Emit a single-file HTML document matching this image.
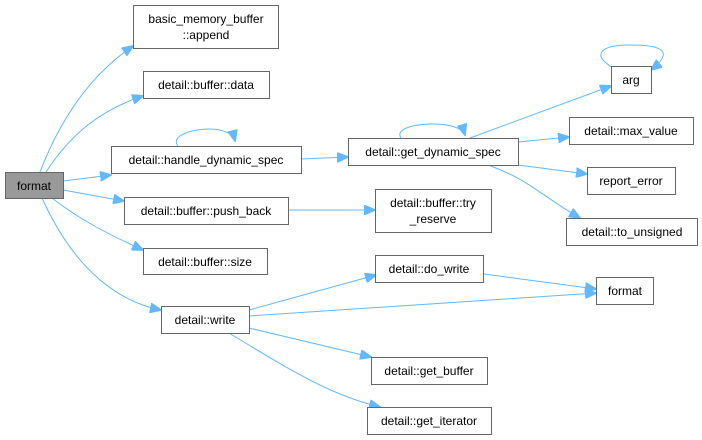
<!DOCTYPE html>
<html><head><style>
html,body{margin:0;padding:0;background:#fff;}
svg{display:block;}
text{font-family:"Liberation Sans",Arial,sans-serif;font-size:12px;fill:#000;}
</style></head><body>
<svg width="702" height="440" viewBox="0 0 702 440" xmlns="http://www.w3.org/2000/svg">
<defs>
<marker id="a" markerWidth="12" markerHeight="10" refX="11" refY="5" orient="auto" markerUnits="userSpaceOnUse">
<path d="M0,0 L12,5 L0,10 z" fill="#63b8ff" stroke="#63b8ff"/>
</marker>
</defs>
<g fill="none" stroke="#63b8ff" stroke-width="1" marker-end="url(#a)">
<path d="M40,172 C60,120 90,75 133,46"/>
<path d="M46,172 C70,135 100,110 143,96"/>
<path d="M63,181 L111,175"/>
<path d="M63,190 L124,201"/>
<path d="M52,198 C80,220 110,235 143,250"/>
<path d="M42,198 C70,260 110,300 161,310"/>
<path d="M178,146 C165,130 230,120 235,141"/>
<path d="M301,159 L348,157"/>
<path d="M288,210 L375,210"/>
<path d="M401,138 C390,122 460,118 465,135"/>
<path d="M470,138 L611,86"/>
<path d="M518,142 L569,137"/>
<path d="M518,165 L587,174"/>
<path d="M488,165 C530,180 540,195 580,218"/>
<path d="M615,69 C590,55 600,45 630,45 C670,45 670,55 651,70"/>
<path d="M249,310 L376,275"/>
<path d="M484,274 L596,289"/>
<path d="M249,316 L596,293"/>
<path d="M249,328 L371,357"/>
<path d="M229,333 C290,370 330,395 380,407"/>
</g>
<g stroke="#666" stroke-width="1" fill="#fff">
<rect x="5.5" y="172.5" width="58" height="26" fill="#999"/>
<rect x="133.5" y="5.5" width="145" height="43"/>
<rect x="143.5" y="71.5" width="126" height="27"/>
<rect x="111.5" y="146.5" width="190" height="27"/>
<rect x="124.5" y="197.5" width="164" height="27"/>
<rect x="143.5" y="248.5" width="124" height="26"/>
<rect x="161.5" y="306.5" width="88" height="27"/>
<rect x="375.5" y="255.5" width="108" height="27"/>
<rect x="596.5" y="277.5" width="57" height="27"/>
<rect x="371.5" y="357.5" width="116" height="27"/>
<rect x="367.5" y="407.5" width="124" height="27"/>
<rect x="348.5" y="138.5" width="170" height="27"/>
<rect x="611.5" y="66.5" width="40" height="27"/>
<rect x="569.5" y="117.5" width="124" height="27"/>
<rect x="587.5" y="167.5" width="88" height="27"/>
<rect x="375.5" y="189.5" width="116" height="43"/>
<rect x="566.5" y="218.5" width="131" height="27"/>
</g>
<g text-anchor="middle">
<text x="34" y="190">format</text>
<text x="206" y="23">basic_memory_buffer</text>
<text x="206" y="39">::append</text>
<text x="206" y="89">detail::buffer::data</text>
<text x="206" y="164">detail::handle_dynamic_spec</text>
<text x="206" y="215">detail::buffer::push_back</text>
<text x="205" y="266">detail::buffer::size</text>
<text x="205" y="324">detail::write</text>
<text x="429" y="273">detail::do_write</text>
<text x="625" y="295">format</text>
<text x="429" y="375">detail::get_buffer</text>
<text x="429" y="425">detail::get_iterator</text>
<text x="433" y="156">detail::get_dynamic_spec</text>
<text x="631" y="84">arg</text>
<text x="631" y="135">detail::max_value</text>
<text x="631" y="185">report_error</text>
<text x="433" y="207">detail::buffer::try</text>
<text x="433" y="223">_reserve</text>
<text x="632" y="236">detail::to_unsigned</text>
</g>
</svg>
</body></html>
